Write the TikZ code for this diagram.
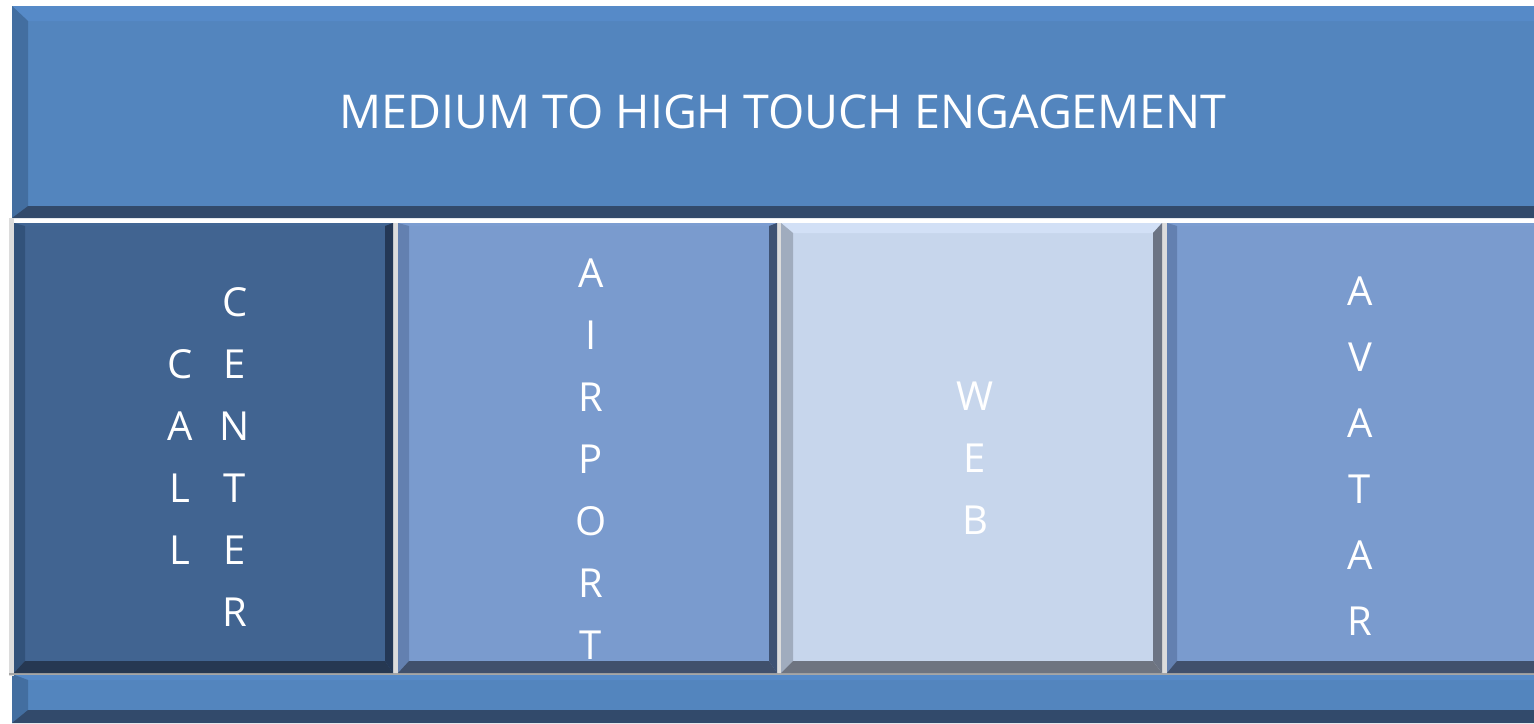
\documentclass[tikz,border=0pt]{standalone}
\usepackage{fontspec}
\setmainfont{Open Sans}
\usepackage{tikz}

\definecolor{bandface}{RGB}{83,133,190}
\definecolor{bandtop}{RGB}{86,138,200}
\definecolor{bandleft}{RGB}{67,110,160}
\definecolor{bandright}{RGB}{83,133,190}
\definecolor{bandbot}{RGB}{50,74,107}
\definecolor{callface}{RGB}{65,100,145}
\definecolor{calltop}{RGB}{66,102,148}
\definecolor{callleft}{RGB}{50,82,122}
\definecolor{callright}{RGB}{36,56,86}
\definecolor{callbot}{RGB}{38,56,82}
\definecolor{airface}{RGB}{122,155,206}
\definecolor{airtop}{RGB}{124,157,209}
\definecolor{airleft}{RGB}{99,128,176}
\definecolor{airright}{RGB}{62,82,115}
\definecolor{airbot}{RGB}{64,80,108}
\definecolor{webface}{RGB}{199,214,236}
\definecolor{webtop}{RGB}{210,224,246}
\definecolor{webleft}{RGB}{160,172,190}
\definecolor{webright}{RGB}{108,116,132}
\definecolor{webbot}{RGB}{110,116,128}
\definecolor{sepgrey}{RGB}{220,220,220}

% x1, y1, x2, y2, top, left, right, bottom, colour prefix
\newcommand{\bevelbox}[9]{%
  \fill[#9face] (#1,#2) rectangle (#3,#4);
  \fill[#9top] (#1,#2) -- (#3,#2) -- ({#3-#7},{#2+#5}) -- ({#1+#6},{#2+#5}) -- cycle;
  \fill[#9left] (#1,#2) -- ({#1+#6},{#2+#5}) -- ({#1+#6},{#4-#8}) -- (#1,#4) -- cycle;
  \fill[#9right] (#3,#2) -- ({#3-#7},{#2+#5}) -- ({#3-#7},{#4-#8}) -- (#3,#4) -- cycle;
  \fill[#9bot] (#1,#4) -- (#3,#4) -- ({#3-#7},{#4-#8}) -- ({#1+#6},{#4-#8}) -- cycle;
}

\tikzset{
  stack/.style={text=white, align=center, inner sep=0pt,
    font=\fontsize{40}{62}\selectfont},
}

\begin{document}
\begin{tikzpicture}[x=1pt, y=-1pt]
      \fill[white] (0,0) rectangle (1534,723);
      \useasboundingbox (0,0) rectangle (1534,723);

      \bevelbox{12}{6}{1534}{218}{15}{16}{0}{12}{band}
      \bevelbox{12}{674}{1534}{723}{6}{16}{0}{13}{band}

      \fill[sepgrey] (9,218) rectangle (14,676);
      \fill[sepgrey] (393,223) rectangle (398,674);
      \fill[sepgrey] (777,223) rectangle (781,674);
      \fill[sepgrey] (1162,223) rectangle (1167,674);
      \fill[black!35] (9,673) rectangle (1534,675);

      \bevelbox{14}{223}{393}{673}{3}{11}{8}{12}{call}
      \bevelbox{398}{223}{777}{673}{3}{11}{8}{12}{air}
      \bevelbox{781}{223}{1162}{673}{10}{12}{9}{12}{web}
      \bevelbox{1167}{223}{1534}{673}{3}{10}{0}{12}{air}

      \node[text=white, inner sep=0pt, font=\fontsize{46.6}{56}\selectfont]
        (title) at (783,112) {MEDIUM TO HIGH TOUCH ENGAGEMENT};

      \node[stack] (call) at (180,457) {C\\A\\L\\L};
      \node[stack] (center) at (235,457) {C\\E\\N\\T\\E\\R};
      \node[stack] (airport) at (591,459) {A\\I\\R\\P\\O\\R\\T};
      \node[stack] (web) at (975,458) {W\\E\\B};
      \node[stack, font=\fontsize{40}{66}\selectfont] (avatar) at (1360,456)
        {A\\V\\A\\T\\A\\R};
    \end{tikzpicture}
\end{document}
